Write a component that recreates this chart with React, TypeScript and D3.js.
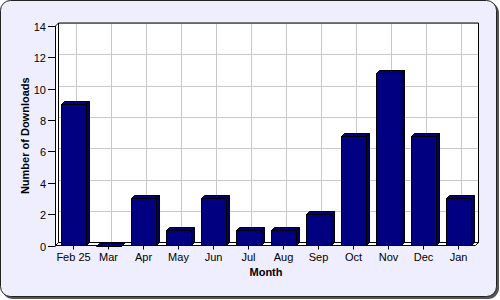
import React from "react";
import * as d3 from "d3";

const months = ["Feb 25", "Mar", "Apr", "May", "Jun", "Jul", "Aug", "Sep", "Oct", "Nov", "Dec", "Jan"];
const downloads = [9, 0, 3, 1, 3, 1, 1, 2, 7, 11, 7, 3];
const yTicks = [0, 2, 4, 6, 8, 10, 12, 14];

const W = 500;
const H = 300;
const D = 3; // 3D depth
const left = 55.5;
const right = 475.5;
const top = 26;
const bottom = 245.5;
const FONT = "Arial, 'Liberation Sans', sans-serif";

export default function App() {
  const x = d3
    .scaleBand<string>()
    .domain(months)
    .range([left, right])
    .paddingInner(10 / 35)
    .paddingOuter(5 / 35);
  const y = d3.scaleLinear().domain([0, 14]).range([bottom, top]);
  const bw = x.bandwidth();

  return (
    <svg
      width={W}
      height={H}
      style={{ position: "absolute", left: 0, top: 0 }}
      fontFamily={FONT}
    >
      {/* panel */}
      <rect x={2} y={2} width={497} height={297} rx={11} fill="#555" />
      <rect x={0.5} y={0.5} width={496} height={296} rx={10} fill="#EEEEFF" stroke="#222" />

      {/* back wall */}
      <rect x={left + D} y={top - D - 0.5} width={right - left} height={bottom - top + 0.5} fill="#fff" />
      {/* gridlines */}
      {yTicks.map((t) => (
        <line key={"h" + t} x1={left + D} x2={right + D} y1={Math.round(y(t) - D) + 0.5} y2={Math.round(y(t) - D) + 0.5} stroke="#c8c8c8" />
      ))}
      {months.map((m) => {
        const cx = Math.round((x(m) as number) + bw / 2 + D) + 0.5;
        return <line key={"v" + m} x1={cx} x2={cx} y1={top - D} y2={bottom - D} stroke="#c8c8c8" />;
      })}
      {/* left wall */}
      <polygon
        points={`${left},${top} ${left + D},${top - D} ${left + D},${bottom - D} ${left},${bottom}`}
        fill="#fff"
        stroke="#000"
      />
      {/* floor */}
      <polygon
        points={`${left},${bottom} ${left + D},${bottom - D} ${right + D},${bottom - D} ${right},${bottom}`}
        fill="#fff"
        stroke="#000"
      />
      {/* back wall border */}
      <polyline
        points={`${left + D},${bottom - D} ${left + D},${top - D} ${right + D},${top - D} ${right + D},${bottom - D}`}
        fill="none"
        stroke="#000"
      />

      {/* bars */}
      {months.map((m, i) => {
        const x0 = Math.round(x(m) as number) + 0.5;
        const x1 = x0 + Math.round(bw);
        const yT = Math.round(y(downloads[i])) + 0.5;
        const yB = bottom;
        return (
          <g key={m} stroke="#000" strokeWidth={1} strokeLinejoin="miter">
            <polygon
              points={`${x1},${yT} ${x1 + D},${yT - D} ${x1 + D},${yB - D} ${x1},${yB}`}
              fill="#000060"
            />
            <polygon
              points={`${x0},${yT} ${x0 + D},${yT - D} ${x1 + D},${yT - D} ${x1},${yT}`}
              fill="#000080"
            />
            <rect x={x0} y={yT} width={x1 - x0} height={yB - yT} fill="#000080" />
          </g>
        );
      })}

      {/* y axis ticks + labels */}
      {yTicks.map((t) => {
        const yy = Math.round(y(t)) + 0.5;
        return (
          <g key={"yt" + t}>
            <line x1={48} x2={left} y1={yy} y2={yy} stroke="#000" />
            <text x={46} y={yy + 4} textAnchor="end" fontSize={11} fill="#000">
              {t}
            </text>
          </g>
        );
      })}
      {/* x axis ticks + labels */}
      {months.map((m) => {
        const cx = Math.round((x(m) as number) + bw / 2) + 0.5;
        return (
          <g key={"xt" + m}>
            <line x1={cx} x2={cx} y1={bottom} y2={bottom + 4} stroke="#000" />
            <text x={cx} y={261} textAnchor="middle" fontSize={11} fill="#000">
              {m}
            </text>
          </g>
        );
      })}

      {/* axis titles */}
      <text x={266} y={276} textAnchor="middle" fontSize={11} fontWeight="bold" fill="#000">
        Month
      </text>
      <text
        transform={`translate(29, ${(top + bottom) / 2}) rotate(-90)`}
        textAnchor="middle"
        fontSize={11}
        fontWeight="bold"
        fill="#000"
      >
        Number of Downloads
      </text>
    </svg>
  );
}
